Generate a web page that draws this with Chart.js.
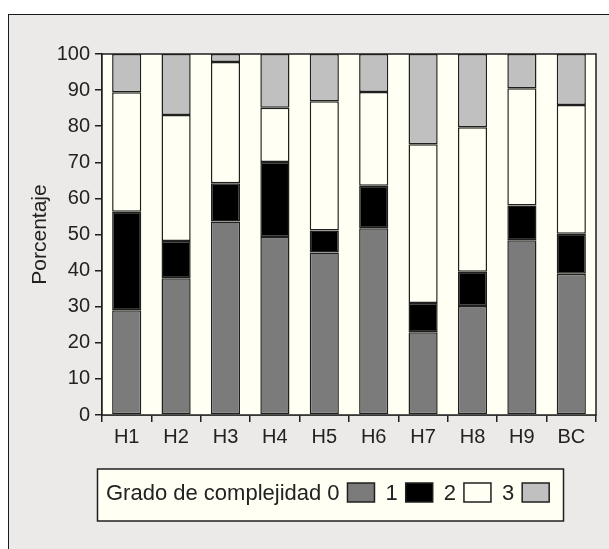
<!DOCTYPE html>
<html lang="es">
<head>
    <meta charset="UTF-8">
    <title>Grado de complejidad</title>
    <script src="https://cdn.jsdelivr.net/npm/chart.js@4.4.1/dist/chart.umd.min.js"></script>
    <style>
        body, html {
            margin: 0;
            padding: 0;
            background: #ffffff;
            overflow: hidden;
        }
        .frame {
            position: absolute;
            left: 8px;
            top: 14px;
            width: 640px;
            height: 580px;
            border: 1.5px solid #1a1a1a;
            background: #ebeae8;
        }
        canvas {
            position: absolute;
            left: 0;
            top: 0;
        }
    </style>
</head>
<body>
    <div class="frame"></div>
    <canvas id="chart" width="609" height="549"></canvas>

    <script>
        // categorías y porcentajes por grado de complejidad
        const categories = ['H1', 'H2', 'H3', 'H4', 'H5', 'H6', 'H7', 'H8', 'H9', 'BC'];
        const grado0 = [29.0, 37.9, 53.6, 49.3, 45.0, 51.7, 22.9, 30.2, 48.4, 39.1];
        const grado1 = [27.3, 10.3, 10.6, 20.8, 6.1, 11.8, 8.1, 9.5, 9.6, 11.1];
        const grado2 = [33.1, 34.9, 33.6, 15.0, 35.8, 26.0, 44.0, 40.0, 32.5, 35.7];
        const grado3 = [10.6, 16.9, 2.2, 14.9, 13.1, 10.5, 25.0, 20.3, 9.5, 14.1];
        const gradoLabels = ['0', '1', '2', '3'];
        const legendTitle = 'Grado de complejidad';
        const yTitle = 'Porcentaje';

        const fontFamily = "'Liberation Sans', Arial, sans-serif";
        const cream = '#fffff3';
        const lineColor = '#1f1f1f';

        // fondo crema y marco del área de trazado
        const plotFrame = {
            id: 'plotFrame',
            beforeDatasetsDraw(chart) {
                const a = chart.chartArea;
                const ctx = chart.ctx;
                ctx.save();
                ctx.fillStyle = cream;
                ctx.fillRect(a.left, a.top, a.right - a.left, a.bottom - a.top);
                ctx.restore();
            },
            afterDraw(chart) {
                const a = chart.chartArea;
                const ctx = chart.ctx;
                ctx.save();
                ctx.strokeStyle = lineColor;
                ctx.lineWidth = 1.5;
                ctx.strokeRect(a.left, a.top, a.right - a.left, a.bottom - a.top);
                ctx.restore();
            }
        };

        // leyenda en una sola línea: texto y después la muestra
        const boxLegend = {
            id: 'boxLegend',
            afterDraw(chart) {
                const ctx = chart.ctx;
                const x0 = 97.5, y0 = 469, w = 466, h = 52;
                const cy = 494;
                ctx.save();
                ctx.fillStyle = cream;
                ctx.fillRect(x0, y0, w, h);
                ctx.strokeStyle = lineColor;
                ctx.lineWidth = 1.5;
                ctx.strokeRect(x0, y0, w, h);

                ctx.font = '22px ' + fontFamily;
                ctx.fillStyle = '#222';
                ctx.textBaseline = 'middle';
                ctx.textAlign = 'left';
                let x = 106;
                ctx.fillText(legendTitle, x, cy);
                x += ctx.measureText(legendTitle).width + 6;

                chart.data.datasets.forEach((ds, i) => {
                    ctx.fillStyle = '#222';
                    ctx.fillText(ds.label, x, cy);
                    x += ctx.measureText(ds.label).width + 8;
                    ctx.fillStyle = ds.backgroundColor;
                    ctx.fillRect(x, cy - 11, 27, 19);
                    ctx.strokeStyle = lineColor;
                    ctx.lineWidth = 1.5;
                    ctx.strokeRect(x, cy - 11, 27, 19);
                    x += 27 + 11;
                });
                ctx.restore();
            }
        };

        const colors = ['#7b7b7b', '#000000', cream, '#c0c0c0'];
        const series = [grado0, grado1, grado2, grado3];

        const datasets = series.map((values, i) => ({
            label: gradoLabels[i],
            data: values,
            backgroundColor: colors[i],
            borderColor: lineColor,
            borderWidth: 1.5,
            borderSkipped: false,
            categoryPercentage: 1.0,
            barPercentage: 0.59
        }));

        const chart = new Chart(document.getElementById('chart').getContext('2d'), {
            type: 'bar',
            data: {
                labels: categories,
                datasets: datasets
            },
            options: {
                responsive: false,
                animation: false,
                layout: {
                    padding: { top: 54, right: 13, bottom: 94, left: 0 }
                },
                plugins: {
                    legend: { display: false },
                    tooltip: { enabled: false }
                },
                scales: {
                    x: {
                        stacked: true,
                        afterFit: s => { s.height = 40; },
                        grid: {
                            offset: true,
                            drawOnChartArea: false,
                            drawTicks: true,
                            tickLength: 7,
                            color: lineColor,
                            lineWidth: 1.5
                        },
                        border: { display: true, color: lineColor, width: 1.5 },
                        ticks: {
                            padding: 3,
                            color: '#222',
                            font: { family: fontFamily, size: 20 }
                        }
                    },
                    y: {
                        stacked: true,
                        min: 0,
                        max: 100,
                        afterFit: s => { s.width = 102; },
                        grid: {
                            drawOnChartArea: false,
                            drawTicks: true,
                            tickLength: 7,
                            color: lineColor,
                            lineWidth: 1.5
                        },
                        border: { display: true, color: lineColor, width: 1.5 },
                        ticks: {
                            stepSize: 10,
                            padding: 5,
                            color: '#222',
                            font: { family: fontFamily, size: 20 }
                        },
                        title: {
                            display: true,
                            text: yTitle,
                            color: '#222',
                            padding: { top: 28, bottom: 0 },
                            font: { family: fontFamily, size: 21 }
                        }
                    }
                }
            },
            plugins: [plotFrame, boxLegend]
        });
    </script>
</body>
</html>
